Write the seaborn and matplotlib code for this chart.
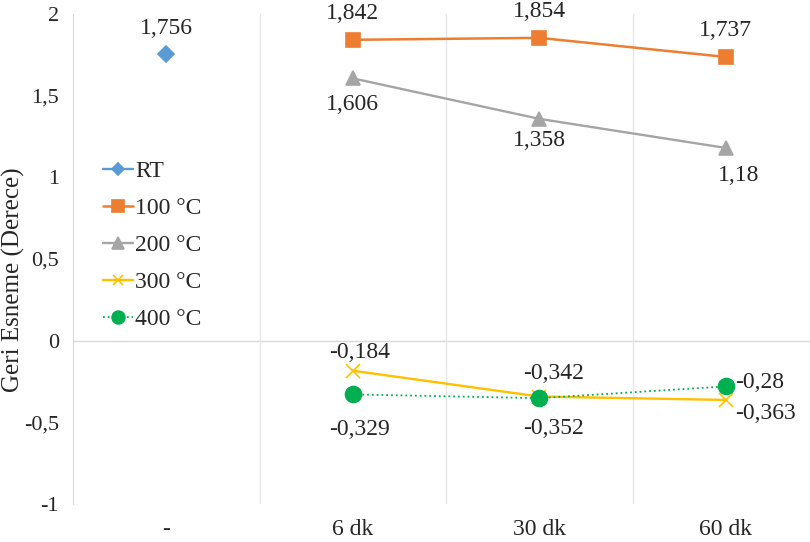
import pandas as pd
import matplotlib
matplotlib.use('Agg')
import matplotlib.pyplot as plt
import seaborn as sns

categories = ['-', '6 dk', '30 dk', '60 dk']
series = ['RT', '100 °C', '200 °C', '300 °C', '400 °C']
rt_vals = [1.756]
t100_vals = [1.842, 1.854, 1.737]
t200_vals = [1.606, 1.358, 1.18]
t300_vals = [-0.184, -0.342, -0.363]
t400_vals = [-0.329, -0.352, -0.28]
y_ticks = [-1, -0.5, 0, 0.5, 1, 1.5, 2]

rows = [('-', 'RT', v) for v in rt_vals]
for name, vals in zip(series[1:], [t100_vals, t200_vals, t300_vals, t400_vals]):
    rows += [(c, name, v) for c, v in zip(categories[1:], vals)]
df = pd.DataFrame(rows, columns=['Sure', 'Seri', 'Deger'])

colors = {'RT': '#5B9BD5', '100 °C': '#ED7D31', '200 °C': '#A5A5A5',
          '300 °C': '#FFC000', '400 °C': '#00B050'}
markers = {'RT': 'D', '100 °C': 's', '200 °C': '^', '300 °C': 'x', '400 °C': 'o'}
styles = {'RT': '-', '100 °C': '-', '200 °C': '-', '300 °C': '-', '400 °C': ':'}
msizes = {'RT': 8, '100 °C': 10, '200 °C': 10, '300 °C': 9.5, '400 °C': 11.5}
lwidths = {'RT': 1.7, '100 °C': 1.8, '200 °C': 1.7, '300 °C': 1.7, '400 °C': 1.3}

sns.set_style('white')
plt.rcParams['font.family'] = ['Liberation Serif', 'DejaVu Serif']
FS = 17

fig = plt.figure(figsize=(8.1, 5.42), dpi=100)
ax = fig.add_axes([73 / 810, 1 - 504 / 542, 746 / 810, 490 / 542])

# keep category order on the axis
ax.plot(categories, [float('nan')] * len(categories))
for name in series:
    sub = df[df.Seri == name]
    sns.lineplot(data=sub, x='Sure', y='Deger', color=colors[name],
                 marker=markers[name], markersize=msizes[name],
                 markeredgecolor=colors[name], markeredgewidth=1.2,
                 linestyle=styles[name], linewidth=lwidths[name],
                 label=name, ax=ax, sort=False)

ax.set_xlim(-0.5, 3.5)
ax.set_ylim(-1, 2)
ax.set_yticks(y_ticks)
ax.set_yticklabels([f'{t:g}'.replace('.', ',') for t in y_ticks], fontsize=16)
ax.set_xticks(range(len(categories)))
ax.set_xticklabels(categories, fontsize=FS)
ax.set_xticks([0.5, 1.5, 2.5], minor=True)
ax.grid(which='minor', axis='x', color='#E6E6E6', linewidth=1)
ax.tick_params(axis='y', which='both', length=0, pad=10)
ax.tick_params(axis='x', which='both', length=0, pad=11)
ax.axhline(0, color='#D9D9D9', linewidth=1, zorder=0)
for s in ['top', 'right', 'bottom']:
    ax.spines[s].set_visible(False)
ax.spines['left'].set_color('#D9D9D9')
ax.set_xlabel('')
ax.set_ylabel('Geri Esneme (Derece)', fontsize=18)
ax.yaxis.set_label_coords(-0.064, 0.457)

def lab(x, y, dx, dy, ha='center', va='center'):
    ax.annotate(f'{y:g}'.replace('.', ','), (x, y), xytext=(dx, dy),
                textcoords='offset points', ha=ha, va=va, fontsize=FS)

lab(0, rt_vals[0], 0, 18)
for i, v in enumerate(t100_vals):
    lab(i + 1, v, 0, 19)
lab(1, t200_vals[0], 0, -19)
lab(2, t200_vals[1], 0, -15.5)
lab(3, t200_vals[2], 9.5, -20)
lab(1, t300_vals[0], 5, 13)
lab(2, t300_vals[1], 10, 16.5)
lab(3, t300_vals[2], 7, -10, ha='left')
lab(1, t400_vals[0], 5, -25)
lab(2, t400_vals[1], 10, -22)
lab(3, t400_vals[2], 7, 2.5, ha='left')

ax.legend(loc='upper left', bbox_to_anchor=(93.6 / 810, 1 - 151 / 542),
          bbox_transform=fig.transFigure, frameon=False, fontsize=FS,
          handlelength=1.27, handletextpad=0.08, labelspacing=0.66,
          borderaxespad=0, markerscale=0.8)

fig.savefig('out.png', dpi=100)
